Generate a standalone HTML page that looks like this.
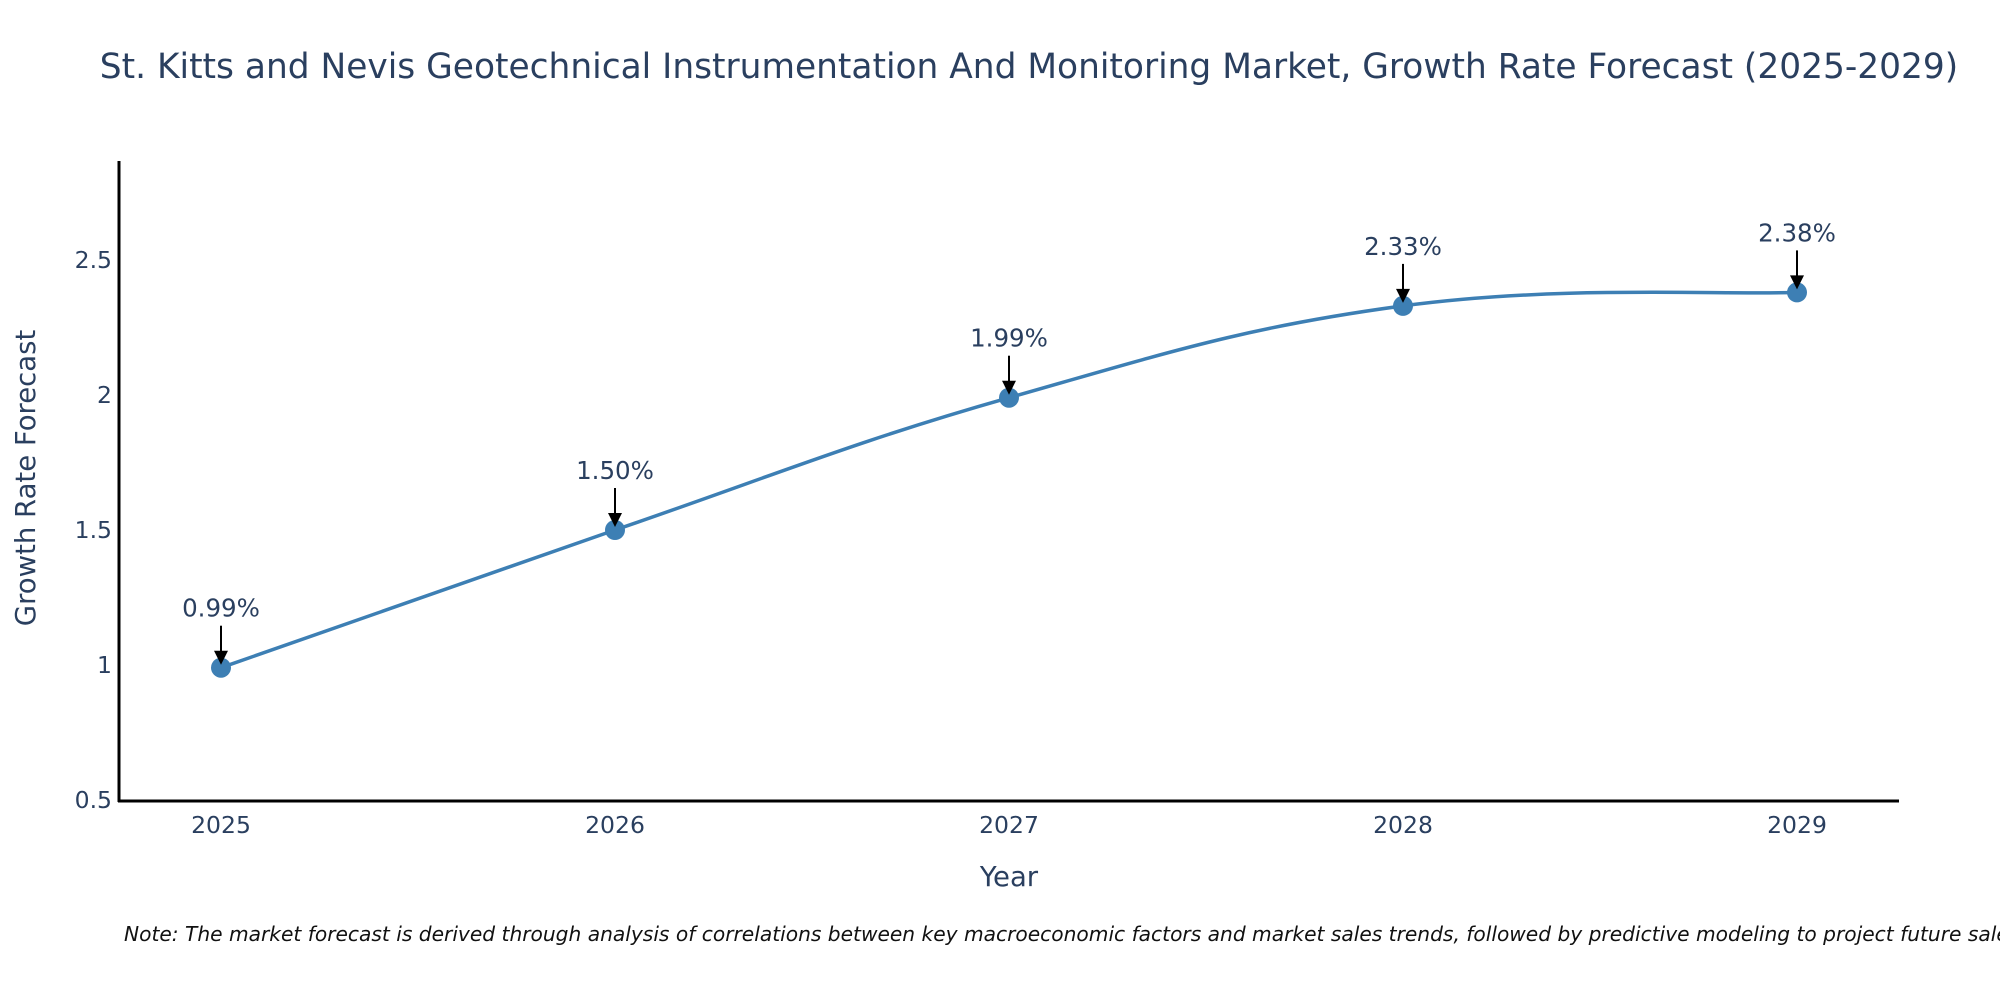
<!DOCTYPE html>
<html><head><meta charset="utf-8">
<style>
html,body{margin:0;padding:0;background:#fff;}
svg{display:block;font-family:"DejaVu Sans","Liberation Sans",sans-serif;}
</style></head>
<body>
<svg id="chart" width="2000" height="1000" viewBox="0 0 2000 1000">
<text x="1029" y="78" text-anchor="middle" font-size="34.4" fill="#2a3f5f">St. Kitts and Nevis Geotechnical Instrumentation And Monitoring Market, Growth Rate Forecast (2025-2029)</text>
<g id="yticks"></g>
<g id="xticks"></g>
<line x1="119" y1="161" x2="119" y2="802" stroke="#000" stroke-width="3"/>
<line x1="118" y1="801" x2="1899" y2="801" stroke="#000" stroke-width="3"/>
<path id="line" fill="none" stroke="#3d7fb4" stroke-width="3.5"/>
<g id="points"></g>
<g id="annots"></g>
<text x="1009" y="886" text-anchor="middle" font-size="27.5" fill="#2a3f5f">Year</text>
<text transform="translate(35,478) rotate(-90)" text-anchor="middle" font-size="27.5" fill="#2a3f5f">Growth Rate Forecast</text>
<text x="124" y="941" font-size="20.2" font-style="italic" fill="#111">Note: The market forecast is derived through analysis of correlations between key macroeconomic factors and market sales trends, followed by predictive modeling to project future sales.</text>
</svg>
<script>
const years = [2025, 2026, 2027, 2028, 2029];
const values = [0.99, 1.50, 1.99, 2.33, 2.38];
const labels = ["0.99%", "1.50%", "1.99%", "2.33%", "2.38%"];
const yTickVals = [0.5, 1, 1.5, 2, 2.5];
const yTickLabels = ["0.5", "1", "1.5", "2", "2.5"];

const NS = "http://www.w3.org/2000/svg";
function xs(v){ return 221 + (v - 2025) * (1797 - 221) / 4; }
function ys(v){ return 800 - (v - 0.5) * (800 - 260) / 2; }
function mk(tag, attrs, parent){ const e = document.createElementNS(NS, tag); for (const k in attrs) e.setAttribute(k, attrs[k]); parent.appendChild(e); return e; }

const yg = document.getElementById('yticks');
yTickVals.forEach((v, i) => {
  const t = mk('text', {x: 112, y: ys(v) + 8, 'text-anchor': 'end', 'font-size': 23.5, fill: '#2a3f5f'}, yg);
  
  
  t.textContent = yTickLabels[i];
});
const xg = document.getElementById('xticks');
years.forEach(y => {
  const t = mk('text', {x: xs(y), y: 833, 'text-anchor': 'middle', 'font-size': 23.5, fill: '#2a3f5f'}, xg);
  
  
  t.textContent = String(y);
});

const P = years.map((y, i) => [xs(y), ys(values[i])]);
let d = `M${P[0][0]},${P[0][1]}`;
const s = 0.2;
for (let i = 0; i < P.length - 1; i++) {
  const p0 = P[Math.max(i - 1, 0)], p1 = P[i], p2 = P[i + 1], p3 = P[Math.min(i + 2, P.length - 1)];
  const c1 = [p1[0] + (p2[0] - p0[0]) * s, p1[1] + (p2[1] - p0[1]) * s];
  const c2 = [p2[0] - (p3[0] - p1[0]) * s, p2[1] - (p3[1] - p1[1]) * s];
  d += ` C${c1[0]},${c1[1]} ${c2[0]},${c2[1]} ${p2[0]},${p2[1]}`;
}
document.getElementById('line').setAttribute('d', d);

const pg = document.getElementById('points');
const ag = document.getElementById('annots');
P.forEach((p, i) => {
  const c = mk('circle', {cx: p[0], cy: p[1], r: 10, fill: '#3d7fb4'}, pg);
  
  
  const ln = mk('line', {x1: p[0], y1: p[1] - 42, x2: p[0], y2: p[1] - 16, stroke: '#000', 'stroke-width': 2}, ag);
  
  
  const hd = mk('polygon', {points: `${p[0]-7},${p[1]-17} ${p[0]+7},${p[1]-17} ${p[0]},${p[1]-3}`, fill: '#000'}, ag);
  
  
  const t = mk('text', {x: p[0], y: p[1] - 51, 'text-anchor': 'middle', 'font-size': 24.5, fill: '#2a3f5f'}, ag);
  
  
  t.textContent = labels[i];
});
</script>
</body></html>
